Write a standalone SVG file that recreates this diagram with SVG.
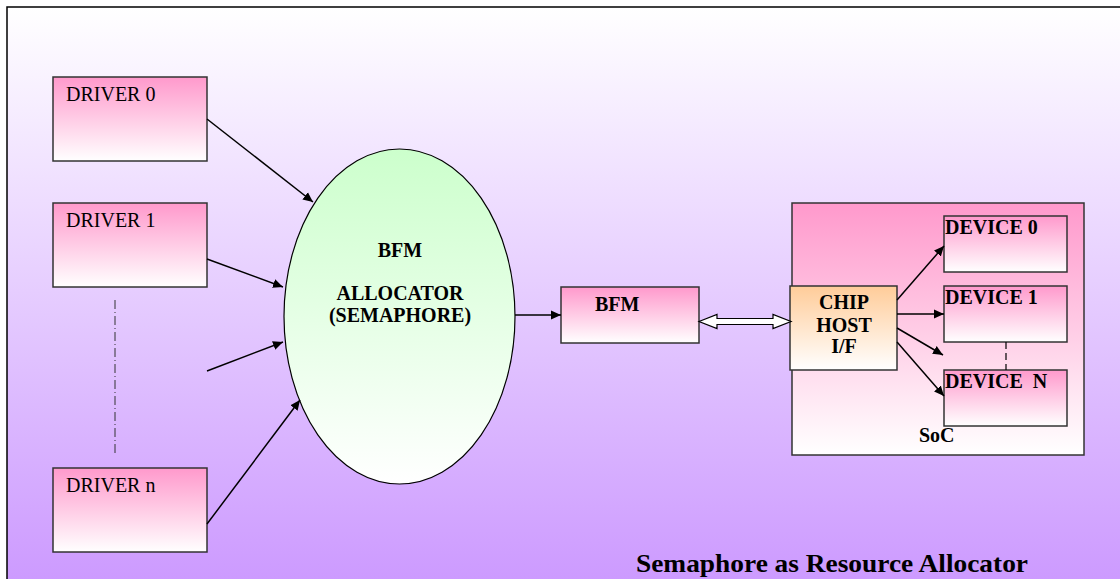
<svg xmlns="http://www.w3.org/2000/svg" width="1120" height="579" viewBox="0 0 1120 579">
<defs>
<linearGradient id="bg" x1="0" y1="0" x2="0" y2="1">
<stop offset="0" stop-color="#FFFFFF"/>
<stop offset="1" stop-color="#CC99FF"/>
</linearGradient>
<linearGradient id="pink" x1="0" y1="0" x2="0" y2="1">
<stop offset="0" stop-color="#FF99CC"/>
<stop offset="1" stop-color="#FFFFFF"/>
</linearGradient>
<linearGradient id="green" x1="0" y1="0" x2="0" y2="1">
<stop offset="0" stop-color="#CCFFCC"/>
<stop offset="1" stop-color="#FFFFFF"/>
</linearGradient>
<linearGradient id="orange" x1="0" y1="0" x2="0" y2="1">
<stop offset="0" stop-color="#FFCC99"/>
<stop offset="1" stop-color="#FFFFFF"/>
</linearGradient>
<marker id="ah" viewBox="0 0 10 10" refX="10" refY="5" markerWidth="10" markerHeight="10" markerUnits="userSpaceOnUse" orient="auto">
<path d="M0,0.5 L10,5 L0,9.5 Z" fill="#000"/>
</marker>
<style>
.box{stroke:#333;stroke-width:1.5}
.t{font-family:"Liberation Serif","Times New Roman",serif;font-size:20px;fill:#000}
.b{font-weight:bold}
.c{text-anchor:middle}
.ln{stroke:#000;stroke-width:1.5;fill:none;marker-end:url(#ah)}
</style>
</defs>
<rect x="7" y="7" width="1120" height="580" fill="url(#bg)" stroke="#000" stroke-width="1.5"/>

<g id="driver0"><rect class="box" x="53" y="77" width="154" height="84" fill="url(#pink)"/><text class="t" x="66" y="101">DRIVER 0</text></g>
<g id="driver1"><rect class="box" x="53" y="203" width="154" height="84" fill="url(#pink)"/><text class="t" x="66" y="227">DRIVER 1</text></g>
<g id="drivern"><rect class="box" x="53" y="468" width="154" height="84" fill="url(#pink)"/><text class="t" x="66" y="492">DRIVER n</text></g>

<g id="allocator"><ellipse cx="399.5" cy="316.5" rx="115.5" ry="167.5" fill="url(#green)" stroke="#000" stroke-width="1.2"/>
<text class="t b c" x="400" y="257">BFM</text>
<text class="t b c" x="400" y="300">ALLOCATOR</text>
<text class="t b c" x="400" y="322">(SEMAPHORE)</text></g>

<g id="bfm"><rect class="box" x="561" y="287" width="138" height="56" fill="url(#pink)"/><text class="t b" x="595" y="311">BFM</text></g>

<g id="soc"><rect class="box" x="792" y="203" width="292" height="252" fill="url(#pink)"/><text class="t b" x="919" y="442">SoC</text></g>

<g id="chiphost"><rect class="box" x="790" y="286" width="107" height="84" fill="url(#orange)"/>
<text class="t b c" x="844" y="309">CHIP</text>
<text class="t b c" x="844" y="332">HOST</text>
<text class="t b c" x="844" y="353">I/F</text></g>

<g id="device0"><rect class="box" x="944" y="216" width="123" height="56" fill="url(#pink)"/><text class="t b" x="945" y="234">DEVICE 0</text></g>
<g id="device1"><rect class="box" x="944" y="286" width="123" height="56" fill="url(#pink)"/><text class="t b" x="945" y="304">DEVICE 1</text></g>
<g id="devicen"><rect class="box" x="944" y="370" width="123" height="56" fill="url(#pink)"/><text class="t b" x="945" y="388" xml:space="preserve">DEVICE  N</text></g>

<g id="connectors">
<line class="ln" x1="207" y1="119" x2="313" y2="202"/>
<line class="ln" x1="207" y1="259" x2="283" y2="287"/>
<line class="ln" x1="207" y1="371" x2="283" y2="342"/>
<line class="ln" x1="207" y1="524" x2="300" y2="400"/>
<line x1="115" y1="300" x2="115" y2="455" stroke="#333" stroke-width="1" stroke-dasharray="9,3,1,3"/>
<line class="ln" x1="515" y1="315" x2="561" y2="315"/>
<path d="M699,321.5 L717,314.5 L717,318.5 L773,318.5 L773,314.5 L791,321.5 L773,328.5 L773,324.5 L717,324.5 L717,328.5 Z" fill="#fff" stroke="#000" stroke-width="1.2"/>
<line class="ln" x1="897" y1="300" x2="944" y2="246"/>
<line class="ln" x1="897" y1="314" x2="944" y2="314"/>
<line class="ln" x1="897" y1="328" x2="943" y2="355"/>
<line class="ln" x1="897" y1="342" x2="944" y2="396"/>
<line x1="1006" y1="342" x2="1006" y2="370" stroke="#000" stroke-width="1.2" stroke-dasharray="7,4"/>
</g>

<text class="t b" x="636" y="572" style="font-size:26px" textLength="392" lengthAdjust="spacingAndGlyphs">Semaphore as Resource Allocator</text>
</svg>
